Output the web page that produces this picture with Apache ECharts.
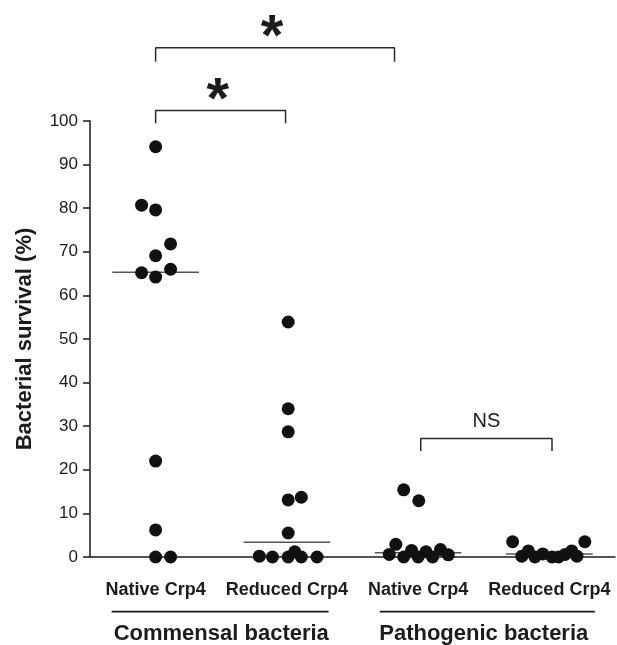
<!DOCTYPE html>
<html>
<head>
<meta charset="utf-8">
<script src="https://cdn.jsdelivr.net/npm/echarts@6/dist/echarts.min.js"></script>
<style>
html,body{margin:0;padding:0;background:#fff;}
#chart{width:617px;height:645px;}
</style>
</head>
<body>
<div id="chart"></div>
<script>
// ---- data ----
const categories = ['Native Crp4', 'Reduced Crp4', 'Native Crp4', 'Reduced Crp4'];
const bacteriaGroups = ['Commensal bacteria', 'Pathogenic bacteria'];
const yMin = 0, yMax = 100, yStep = 10;

// bacterial survival (%) per group, with horizontal jitter (in category units)
const commensalNativeValues  = [94.1, 80.7, 79.6, 71.8, 69.1, 66.0, 65.2, 64.2, 22.0, 6.2, 0, 0];
const commensalNativeJitter  = [0, -0.107, 0, 0.114, 0, 0.114, -0.107, 0, 0, 0, 0, 0.114];

const commensalReducedValues = [53.9, 34.0, 28.7, 13.1, 13.7, 5.5, 0.2, 0, 0, 1.2, 0, 0];
const commensalReducedJitter = [0.01, 0.01, 0.01, 0.01, 0.11, 0.01, -0.21, -0.11, 0.01, 0.06, 0.11, 0.23];

const pathogenicNativeValues = [15.4, 12.9, 2.9, 0.6, 0, 1.5, 0, 1.2, 0, 1.7, 0.5];
const pathogenicNativeJitter = [-0.11, 0.005, -0.17, -0.22, -0.11, -0.05, 0, 0.06, 0.11, 0.17, 0.23];

const pathogenicReducedValues = [3.5, 3.5, 0.2, 1.4, 0, 0.7, 0, 0, 0.6, 1.4, 0.2];
const pathogenicReducedJitter = [-0.28, 0.27, -0.21, -0.16, -0.11, -0.05, 0.02, 0.07, 0.12, 0.17, 0.21];

const medians = [65.3, 3.4, 1.0, 0.7];

// significance comparisons: from/to in category units, bracket top value, label
const comparisonFrom  = [0, 0, 2.02];
const comparisonTo    = [1.82, 0.99, 3.02];
const comparisonTop   = [116.8, 102.4, 27.2];
const comparisonLabel = ['*', '*', 'NS'];

// ---- build chart ----
const groupValues = [commensalNativeValues, commensalReducedValues, pathogenicNativeValues, pathogenicReducedValues];
const groupJitter = [commensalNativeJitter, commensalReducedJitter, pathogenicNativeJitter, pathogenicReducedJitter];

const DOT = '#111';
const INK = '#1c1c1c';
const FONT = 'Liberation Sans, Arial, sans-serif';
const series = [];

// median lines
medians.forEach((m, i) => {
  series.push({
    type: 'line', xAxisIndex: 0, yAxisIndex: 0, symbol: 'none', silent: true, z: 2,
    lineStyle: { color: '#555', width: 1.5 },
    data: [[i - 0.33, m], [i + 0.33, m]]
  });
});

// points
groupValues.forEach((vals, i) => {
  series.push({
    type: 'scatter', xAxisIndex: 0, yAxisIndex: 0, z: 5,
    symbolSize: 13, clip: false,
    itemStyle: { color: DOT, opacity: 1 },
    data: vals.map((v, k) => [i + groupJitter[i][k], v])
  });
});

// brackets
const dropH = [3.2, 2.9, 2.9];
comparisonFrom.forEach((f, i) => {
  const t = comparisonTo[i], top = comparisonTop[i], d = dropH[i];
  series.push({
    type: 'line', xAxisIndex: 0, yAxisIndex: 0, symbol: 'none', clip: false, silent: true, z: 3,
    lineStyle: { color: '#2a2a2a', width: 1.5 },
    data: [[f, top - d], [f, top], [t, top], [t, top - d]]
  });
});

// bracket labels
const labelX = [0.886, 0.474, 2.52];
comparisonLabel.forEach((lab, i) => {
  const isStar = lab === '*';
  series.push({
    type: 'scatter', xAxisIndex: 0, yAxisIndex: 0, symbolSize: 1, clip: false, silent: true, z: 6,
    itemStyle: { color: 'rgba(0,0,0,0)', opacity: 1 },
    label: {
      show: true, position: 'top', distance: isStar ? -21 : 6,
      formatter: lab, color: INK, opacity: 1,
      fontFamily: FONT,
      fontSize: isStar ? 58 : 20, fontWeight: isStar ? 'bold' : 'normal'
    },
    data: [[labelX[i], comparisonTop[i]]]
  });
});

// separator lines under category labels
const sepY = -12.54;
series.push({
  type: 'line', xAxisIndex: 0, yAxisIndex: 0, symbol: 'none', clip: false, silent: true,
  lineStyle: { color: INK, width: 1.8 },
  data: [[-0.335, sepY], [1.318, sepY]]
});
series.push({
  type: 'line', xAxisIndex: 0, yAxisIndex: 0, symbol: 'none', clip: false, silent: true,
  lineStyle: { color: INK, width: 1.8 },
  data: [[1.708, sepY], [3.346, sepY]]
});

const chart = echarts.init(document.getElementById('chart'), null, { renderer: 'canvas' });
chart.setOption({
  animation: false,
  backgroundColor: '#fff',
  grid: { left: 90, right: 2, top: 121, bottom: 86, containLabel: false },
  xAxis: [
    {
      type: 'value', min: -0.5, max: 3.5, position: 'bottom',
      axisLine: { show: true, onZero: false, lineStyle: { color: INK, width: 1.5 } },
      axisTick: { show: false }, axisLabel: { show: false }, splitLine: { show: false }
    },
    {
      type: 'category', data: categories, position: 'bottom', offset: 0,
      axisLine: { show: false }, axisTick: { show: false }, splitLine: { show: false },
      axisLabel: {
        margin: 24, color: INK, fontSize: 18, fontWeight: 'bold',
        fontFamily: FONT, interval: 0
      }
    },
    {
      type: 'category', data: bacteriaGroups, position: 'bottom', offset: 0,
      axisLine: { show: false }, axisTick: { show: false }, splitLine: { show: false },
      axisLabel: {
        margin: 66, color: INK, fontSize: 22, fontWeight: 'bold',
        fontFamily: FONT, interval: 0
      }
    }
  ],
  yAxis: {
    type: 'value', min: yMin, max: yMax, interval: yStep,
    name: 'Bacterial survival (%)', nameLocation: 'middle', nameGap: 54,
    nameTextStyle: { color: INK, fontSize: 22, fontWeight: 'bold', fontFamily: FONT },
    axisLine: { show: true, onZero: false, lineStyle: { color: INK, width: 1.5 } },
    axisTick: { show: true, length: 7, lineStyle: { color: INK, width: 1.5 } },
    axisLabel: { margin: 12, color: INK, fontSize: 17, fontFamily: FONT },
    splitLine: { show: false }
  },
  series: series
});
</script>
</body>
</html>
